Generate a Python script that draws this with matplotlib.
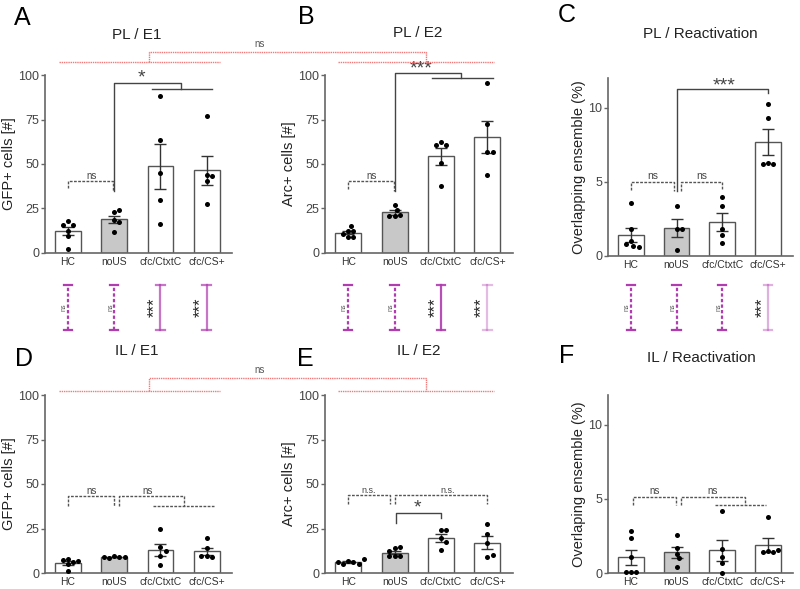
import numpy as np
import matplotlib
matplotlib.use('Agg')
import matplotlib.pyplot as plt

plt.rcParams['font.family'] = ['Liberation Sans', 'DejaVu Sans']

W, H = 800, 589

groups = ['HC', 'noUS', 'cfc/CtxtC', 'cfc/CS+']
bar_fill = ['white', '#c8c8c8', 'white', 'white']

# individual animals
pl_e1 = [[18.1, 15.9, 15.9, 12.5, 9.3, 2.2],
         [22.8, 23.9, 18.7, 17.2, 11.6],
         [88.2, 63.6, 45.2, 29.9, 16.4],
         [77.0, 44.0, 43.0, 40.2, 27.7]]
pl_e2 = [[12.6, 12.2, 15.0, 9.0, 8.8, 10.8],
         [20.9, 21.5, 26.7, 24.3, 20.6],
         [62.6, 60.4, 60.4, 50.5, 37.4],
         [95.7, 72.3, 57.0, 56.6, 43.9]]
pl_react = [[3.6, 1.8, 1.0, 0.7, 0.8, 0.6],
            [3.35, 1.85, 1.85, 0.4],
            [3.97, 3.34, 1.83, 1.42, 0.86],
            [10.27, 9.28, 6.28, 6.23, 6.23]]
il_e1 = [[7.8, 5.0, 6.2, 7.3, 6.8, 1.0],
         [9.4, 8.8, 8.6, 8.8, 9.2],
         [24.7, 14.4, 12.1, 9.7, 4.7],
         [19.6, 14.0, 9.3, 9.0, 9.3]]
il_e2 = [[7.0, 5.9, 5.3, 5.3, 5.9, 7.6],
         [14.2, 14.4, 12.3, 9.3, 9.3, 9.3],
         [24.3, 24.0, 19.5, 17.5, 13.0],
         [27.5, 22.0, 17.0, 8.8, 10.2]]
il_react = [[2.8, 2.35, 1.1, 0.05, 0.05, 0.05],
            [2.57, 1.68, 1.3, 1.0, 0.4],
            [4.2, 1.6, 1.1, 0.7, 0.0],
            [3.76, 1.45, 1.39, 1.39, 1.52]]

# PL vs IL comparison strips (one per group)
strip_sig = [['ns', 'ns', '***', '***'],
             ['ns', 'ns', '***', '***'],
             ['ns', 'ns', 'ns', '***']]
strip_alpha = [[1, 1, 0.7, 0.7],
               [1, 1, 0.9, 0.35],
               [1, 1, 1, 0.4]]

cm_ylabel = 'GFP+ cells [#]'
arc_ylabel = 'Arc+ cells [#]'

fig = plt.figure(figsize=(W / 100, H / 100), dpi=100)


def px_axes(l, t, r, b):
    return fig.add_axes([l / W, 1 - b / H, (r - l) / W, (b - t) / H])


def ftext(x, y, s, **kw):
    fig.text(x / W, 1 - y / H, s, ha='center', va='center', **kw)


def swarm_x(ax, i, vals, d=5.2):
    # simple beeswarm in pixel space
    bb = ax.get_position()
    x0, x1 = ax.get_xlim()
    y0, y1 = ax.get_ylim()
    pxx = bb.width * W / (x1 - x0)
    pxy = bb.height * H / (y1 - y0)
    placed = []
    xs = []
    for v in vals:
        yp = v * pxy
        steps = [0]
        for k in range(1, 12):
            steps += [k * d / 2, -k * d / 2]
        for off in steps:
            if all((off - px) ** 2 + (yp - py) ** 2 >= (d * 0.95) ** 2 for px, py in placed):
                break
        placed.append((off, yp))
        xs.append(i + off / pxx)
    return xs


def bar_panel(ax, data, ymax, yticks, ylabel):
    ax.set_xlim(-0.5, 3.55)
    ax.set_ylim(0, ymax)
    for i, vals in enumerate(data):
        v = np.array(vals)
        m = v.mean()
        sem = v.std(ddof=1) / np.sqrt(len(v))
        ax.bar(i, m, width=0.56, color=bar_fill[i], edgecolor='#555555', linewidth=1, zorder=1)
        ax.errorbar(i, m, yerr=sem, color='#333333', capsize=4.5, elinewidth=1,
                    capthick=1, zorder=2)
        ax.scatter(swarm_x(ax, i, vals), vals, s=13, color='black', zorder=3,
                   linewidths=0, clip_on=False)
    ax.set_xticks(range(4))
    ax.set_xticklabels(groups, fontsize=7.5, color='#333333')
    ax.set_yticks(yticks)
    ax.tick_params(axis='y', length=3, width=1, color='#666666', labelsize=9,
                   labelcolor='#444444', pad=1)
    ax.tick_params(axis='x', length=0, pad=3)
    for s in ['top', 'right']:
        ax.spines[s].set_visible(False)
    for s in ['left', 'bottom']:
        ax.spines[s].set_color('#666666')
        ax.spines[s].set_linewidth(1.2)
    ax.set_ylabel(ylabel, fontsize=10.5, color='#222222', labelpad=2)


def bracket(ax, pts, style='-', color='#444444'):
    xs, ys = zip(*pts)
    ax.plot(xs, ys, color=color, lw=1, linestyle=style, clip_on=False, zorder=4)


dash = (0, (2, 1))


def label(ax, x, y, s, size=7, va='bottom'):
    ax.text(x, y, s, ha='center', va=va, fontsize=size, color='#444444', clip_on=False)


axA = px_axes(45, 75, 232, 253)
axB = px_axes(325, 75, 513, 253)
axC = px_axes(608, 78, 793, 256)
axD = px_axes(45, 395, 232, 573)
axE = px_axes(325, 395, 513, 573)
axF = px_axes(608, 395, 793, 573)

bar_panel(axA, pl_e1, 100, [0, 25, 50, 75, 100], cm_ylabel)
bar_panel(axB, pl_e2, 100, [0, 25, 50, 75, 100], arc_ylabel)
bar_panel(axC, pl_react, 12, [0, 5, 10], 'Overlapping ensemble (%)')
bar_panel(axD, il_e1, 100, [0, 25, 50, 75, 100], cm_ylabel)
bar_panel(axE, il_e2, 100, [0, 25, 50, 75, 100], arc_ylabel)
bar_panel(axF, il_react, 12, [0, 5, 10], 'Overlaping ensemble (%)')

# A
bracket(axA, [(0, 36.4), (0, 40.2), (0.98, 40.2), (0.98, 34.6)], dash, '#555555')
label(axA, 0.5, 40.6, 'ns')
bracket(axA, [(1.0, 34.6), (1.0, 95.7), (2.45, 95.7), (2.45, 92)])
bracket(axA, [(1.81, 92), (3.12, 92)])
label(axA, 1.6, 93.5, '*', 14)
# B
bracket(axB, [(0, 36.0), (0, 40.2), (0.98, 40.2), (0.98, 34.6)], dash, '#555555')
label(axB, 0.5, 40.6, 'ns')
bracket(axB, [(1.0, 34.6), (1.0, 101.3), (2.44, 101.3), (2.44, 98.5)])
bracket(axB, [(1.80, 98.5), (3.11, 98.5)])
label(axB, 1.58, 98.5, '***', 14)
# C
bracket(axC, [(0, 4.47), (0, 5.0), (0.95, 5.0), (0.95, 4.36)], dash, '#555555')
label(axC, 0.48, 5.05, 'ns', 7.5)
bracket(axC, [(1.09, 4.36), (1.09, 5.0), (2.0, 5.0), (2.0, 4.47)], dash, '#555555')
label(axC, 1.55, 5.05, 'ns', 7.5)
bracket(axC, [(1.0, 4.36), (1.0, 11.29), (3.0, 11.29), (3.0, 11.0)])
label(axC, 2.05, 10.9, '***', 14)
# D
bracket(axD, [(0, 37.8), (0, 43), (1.0, 43), (1.0, 37.8)], dash, '#555555')
label(axD, 0.5, 43.4, 'ns')
bracket(axD, [(1.1, 37.8), (1.1, 43), (2.52, 43), (2.52, 37.8)], dash, '#555555')
bracket(axD, [(1.84, 37.8), (3.15, 37.8)], dash, '#555555')
label(axD, 1.72, 43.4, 'ns')
# E
bracket(axE, [(0, 38.7), (0, 43.6), (0.9, 43.6), (0.9, 38.7)], dash, '#555555')
label(axE, 0.45, 44.0, 'n.s.', 6.5)
bracket(axE, [(1.0, 38.7), (1.0, 43.6), (3.0, 43.6), (3.0, 38.7)], dash, '#555555')
label(axE, 2.15, 44.0, 'n.s.', 6.5)
bracket(axE, [(1.04, 28), (1.04, 33.6), (2.0, 33.6), (2.0, 30.8)])
label(axE, 1.5, 31.5, '*', 14)
# F
bracket(axF, [(0.04, 4.59), (0.04, 5.15), (0.99, 5.15), (0.99, 4.59)], dash, '#555555')
label(axF, 0.53, 5.2, 'ns')
bracket(axF, [(1.09, 4.59), (1.09, 5.15), (2.5, 5.15), (2.5, 4.59)], dash, '#555555')
bracket(axF, [(1.85, 4.59), (2.95, 4.59)], dash, '#555555')
label(axF, 1.78, 5.2, 'ns')

# PL vs IL strips under the top row
for ax, sig, alph in zip([axA, axB, axC], strip_sig, strip_alpha):
    bb = ax.get_position()
    st = fig.add_axes([bb.x0, 1 - 330 / H, bb.width, 45 / H])
    st.set_xlim(ax.get_xlim())
    st.set_ylim(0, 1)
    st.axis('off')
    for i, (s, a) in enumerate(zip(sig, alph)):
        ls = '-' if s != 'ns' else (0, (1.5, 1))
        st.plot([i, i], [0, 1], color='#b03cb0', alpha=a, lw=1.6, linestyle=ls, clip_on=False)
        st.plot([i - 0.09, i + 0.09], [0, 0], color='#b03cb0', alpha=a, lw=1.6, clip_on=False)
        st.plot([i - 0.09, i + 0.09], [1, 1], color='#b03cb0', alpha=a, lw=1.6, clip_on=False)
        if s == 'ns':
            st.text(i - 0.08, 0.5, 'ns', rotation=90, fontsize=5, color='#555555',
                    ha='center', va='center')
        else:
            st.text(i - 0.13, 0.5, s, rotation=90, fontsize=12, color='#222222',
                    ha='center', va='center')

# E1 vs E2 comparison (red), drawn in pixel space
ov = fig.add_axes([0, 0, 1, 1])
ov.set_xlim(0, W)
ov.set_ylim(H, 0)
ov.axis('off')


def px_of(ax, x):
    bb = ax.get_position()
    x0, x1 = ax.get_xlim()
    return (bb.x0 + (x - x0) / (x1 - x0) * bb.width) * W


red = '#f06a6a'
for top_ax, right_ax, y_lo, y_hi in [(axA, axB, 62, 52), (axD, axE, 391, 378)]:
    kw = dict(color=red, lw=1, linestyle=(0, (1, 0.6)), alpha=0.9)
    ov.plot([px_of(top_ax, -0.2), px_of(top_ax, 3.28)], [y_lo, y_lo], **kw)
    ov.plot([px_of(right_ax, -0.21), px_of(right_ax, 3.14)], [y_lo, y_lo], **kw)
    xa, xb = px_of(top_ax, 1.75), px_of(right_ax, 1.67)
    ov.plot([xa, xa, xb, xb], [y_lo, y_hi, y_hi, y_lo], **kw)
    ov.text(260, y_hi - 3, 'ns', ha='center', va='bottom', fontsize=7, color='#555555')

# titles and panel letters
for x, y, s in [(137, 35, 'PL / E1'), (418, 33, 'PL / E2'), (700, 34, 'PL / Reactivation'),
                (137, 351, 'IL / E1'), (419, 351, 'IL / E2'), (701, 358, 'IL / Reactivation')]:
    ftext(x, y, s, fontsize=11, color='#222222')
for x, y, s in [(22, 18, 'A'), (306, 17, 'B'), (567, 15, 'C'),
                (24, 359, 'D'), (305, 359, 'E'), (567, 356, 'F')]:
    ftext(x, y, s, fontsize=18, color='black')

fig.savefig('out.png', dpi=100)
